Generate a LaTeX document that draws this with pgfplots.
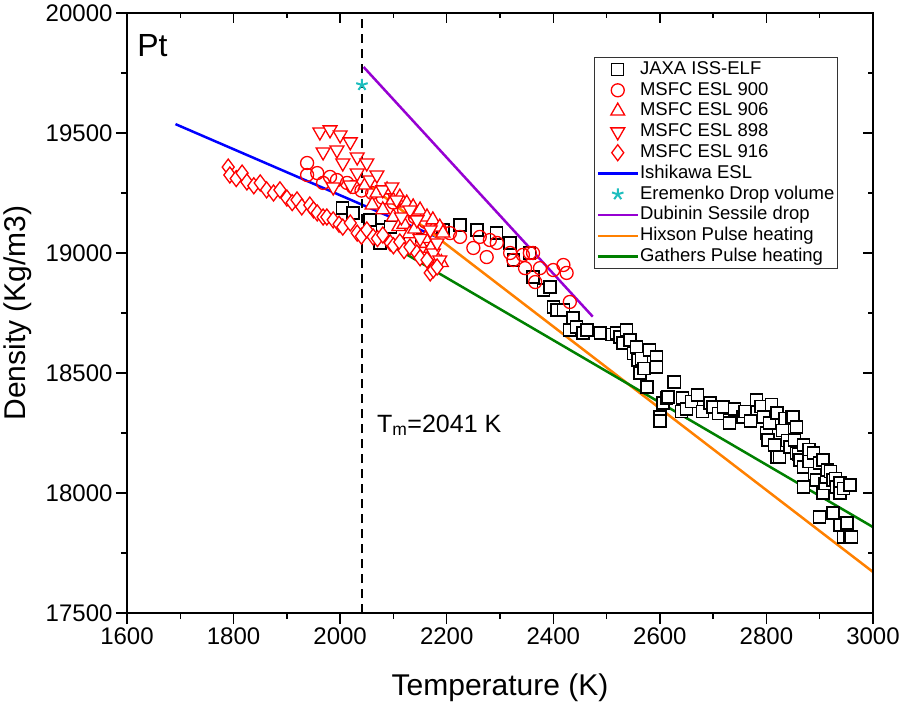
\documentclass[border=0pt]{standalone}
\usepackage{fontspec}
\setmainfont{Liberation Sans}
\usepackage{pgfplots}
\usepackage{pgfplotstable}
\pgfplotsset{compat=1.18}
\definecolor{cblue}{RGB}{0,0,255}
\definecolor{cstar}{RGB}{30,190,190}
\definecolor{cpurple}{RGB}{150,0,210}
\definecolor{corange}{RGB}{255,128,0}
\definecolor{cgreen}{RGB}{0,128,0}
\definecolor{cred}{RGB}{255,0,0}

\pgfplotstableread{
T rho
2005 19187
2024 19167
2056 19138
2075 19042
2080 19096
2094 19108
2131 19042
2155 19054
2193 19096
2225 19117
2257 19096
2294 19083
2319 19042
2325 18971
2356 19000
2362 18900
2381 18846
2394 18858
2400 18775
2407 18762
2419 18763
2431 18679
2437 18729
2444 18692
2456 18667
2463 18679
2488 18667
2510 18660
2519 18667
2525 18650
2531 18625
2538 18679
2544 18637
2550 18580
2556 18608
2559 18554
2563 18500
2565 18560
2570 18520
2576 18442
2581 18596
2594 18567
2594 18525
2600 18317
2600 18300
2606 18375
2613 18396
2615 18400
2625 18463
2628 18463
2640 18340
2643 18396
2650 18350
2660 18380
2670 18408
2680 18340
2694 18375
2700 18358
2710 18330
2719 18358
2731 18304
2731 18292
2740 18350
2756 18317
2760 18340
2770 18300
2782 18388
2790 18360
2794 18317
2800 18250
2803 18221
2806 18292
2810 18370
2815 18200
2820 18333
2820 18150
2825 18150
2830 18260
2835 18310
2840 18220
2844 18192
2847 18317
2850 18317
2853 18221
2857 18275
2857 18167
2860 18160
2863 18138
2869 18108
2869 18025
2870 18200
2880 18130
2880 18180
2888 18167
2890 18080
2894 18054
2900 18125
2900 17900
2906 18138
2906 18000
2910 18040
2913 18067
2914 18096
2920 18090
2925 18054
2925 17917
2930 18060
2932 18025
2938 18042
2938 18000
2938 17867
2944 17817
2945 18020
2951 17875
2957 18033
2957 17817
2960 17817
}\jaxa

\pgfplotstableread{
T rho
1938 19375
1938 19325
1957 19333
1968 19292
1981 19317
1994 19304
2013 19292
2024 19275
2040 19260
2060 19250
2080 19230
2100 19210
2120 19180
2140 19150
2160 19130
2174 19117
2187 19100
2206 19083
2225 19067
2250 19021
2262 19067
2275 18983
2281 19054
2294 19042
2319 19000
2325 18971
2343 18992
2347 18937
2356 19000
2362 19000
2366 18879
2375 18937
2400 18929
2419 18950
2425 18917
2431 18796
}\msfcA

\pgfplotstableread{
T rho
2047 19283
2060 19200
2069 19250
2080 19180
2088 19263
2099 19221
2100 19150
2110 19110
2112 19233
2120 19120
2125 19208
2130 19080
2137 19192
2140 19100
2150 19179
2150 19040
2160 19060
2163 19150
2170 19020
2174 19138
2187 19108
2193 19083
2178 18990
2190 18960
}\msfcB

\pgfplotstableread{
T rho
1962 19504
1981 19513
2000 19492
1968 19421
1994 19429
2019 19463
2032 19400
2005 19375
2050 19375
2056 19304
2069 19325
2080 19263
2097 19275
1987 19275
2019 19283
2032 19333
2106 19221
2115 19150
2131 19179
2144 19138
2150 19060
2169 19096
2175 19000
2182 19042
2187 18971
}\msfcC

\pgfplotstableread{
T rho
1790 19358
1793 19325
1805 19310
1816 19333
1825 19296
1838 19280
1850 19292
1862 19263
1875 19250
1887 19263
1900 19229
1910 19210
1919 19221
1928 19192
1943 19200
1950 19180
1957 19167
1968 19150
1975 19150
1987 19138
1998 19120
2005 19108
2019 19125
2032 19083
2040 19070
2050 19096
2062 19067
2070 19060
2080 19075
2094 19042
2100 19030
2112 19046
2120 19010
2131 19025
2144 19000
2150 18980
2163 18971
2169 18917
2175 18930
2182 18942
}\msfcD

\begin{document}
\begin{tikzpicture}
\path[use as bounding box] (-127bp,-95bp) rectangle (775bp,613bp);
\begin{axis}[
  at={(0,0)}, anchor=south west,
  scale only axis, width=746bp, height=600bp,
  xmin=1600, xmax=3000, ymin=17500, ymax=20000,
  xtick={1600,1800,...,3000}, ytick={17500,18000,...,20000},
  minor x tick num=1, minor y tick num=1,
  tick align=outside, xtick pos=bottom, ytick pos=left,
  major tick length=11bp, minor tick length=6bp,
  axis line style={line width=1.3bp},
  every tick/.style={line width=1.3bp, black},
  ticklabel style={font=\fontsize{24bp}{28bp}\selectfont},
  /pgf/number format/assume math mode=true,
  /pgf/number format/1000 sep={},
  scaled ticks=false,
  xlabel={Temperature (K)}, ylabel={Density (Kg/m3)},
  label style={font=\fontsize{30bp}{34bp}\selectfont},
  xlabel style={at={(axis description cs:0.5,-0.125)}, anchor=center},
  ylabel style={at={(axis description cs:-0.146,0.5)}, anchor=center},
  legend cell align=left,
  legend image code/.code={\draw[mark repeat=2,mark phase=2,#1] plot coordinates {(0bp,0bp) (20bp,0bp) (40bp,0bp)};},
  legend style={at={(0.626,0.927)}, anchor=north west, draw=black!80, line width=1bp,
    fill=white, font=\fontsize{18.5bp}{20bp}\selectfont, inner sep=2bp, row sep=0.4bp,
    nodes={inner sep=1bp, text height=14bp, text depth=4.4bp}},
]
\addplot[only marks, mark=square*, mark size=6bp, draw=black, fill=white, mark options={line width=1.3bp}] table[x=T,y=rho] {\jaxa};
\addlegendentry{JAXA ISS-ELF}
\addplot[only marks, mark=o, mark size=6.5bp, draw=cred, mark options={fill=white, line width=1.3bp}] table[x=T,y=rho] {\msfcA};
\addlegendentry{MSFC ESL 900}
\addplot[only marks, mark=triangle*, mark size=8bp, draw=cred, fill=white, mark options={line width=1.3bp}] table[x=T,y=rho] {\msfcB};
\addlegendentry{MSFC ESL 906}
\addplot[only marks, mark=triangle*, mark size=8bp, draw=cred, fill=white, mark options={rotate=180, line width=1.3bp}] table[x=T,y=rho] {\msfcC};
\addlegendentry{MSFC ESL 898}
\addplot[only marks, mark=diamond*, mark size=8bp, draw=cred, fill=white, mark options={line width=1.3bp}] table[x=T,y=rho] {\msfcD};
\addlegendentry{MSFC ESL 916}
\addplot[cblue, line width=2.5bp, no marks] coordinates {(1691,19537) (2181,19067)};
\addlegendentry{Ishikawa ESL}
\addplot[only marks, mark=star, mark size=6bp, cstar, mark options={line width=2bp}] coordinates {(2041,19700)};
\addlegendentry{Eremenko Drop volume}
\addplot[cpurple, line width=2.5bp, no marks] coordinates {(2044,19775) (2474,18735)};
\addlegendentry{Dubinin Sessile drop}
\addplot[corange, line width=2.5bp, no marks] coordinates {(2046,19297) (3000,17671)};
\addlegendentry{Hixson Pulse heating}
\addplot[cgreen, line width=2.5bp, no marks] coordinates {(2097,19030) (3000,17858)};
\addlegendentry{Gathers Pulse heating}
\addplot[black, line width=2bp, dash pattern=on 9bp off 6bp, forget plot] coordinates {(2041,17500) (2041,20000)};
\node[anchor=base west, inner sep=0pt, font=\fontsize{32bp}{36bp}\selectfont] at (axis cs:1619,19817) {Pt};
\node[anchor=base west, inner sep=0pt, font=\fontsize{25bp}{30bp}\selectfont] at (axis cs:2069,18254) {T\textsubscript{m}=2041 K};
\end{axis}
\begin{axis}[
  at={(0,0)}, anchor=south west,
  scale only axis, width=746bp, height=600bp,
  xmin=1600, xmax=3000, ymin=17500, ymax=20000,
  xtick={1600,1800,...,3000}, ytick={17500,18000,...,20000},
  minor x tick num=1, minor y tick num=1,
  tick align=inside, xtick pos=top, ytick pos=right,
  major tick length=10bp, minor tick length=5bp,
  axis line style={line width=1.3bp},
  every tick/.style={line width=1.3bp, black},
  scaled ticks=false,
  xticklabels={}, yticklabels={},
]
\end{axis}
\end{tikzpicture}
\end{document}
